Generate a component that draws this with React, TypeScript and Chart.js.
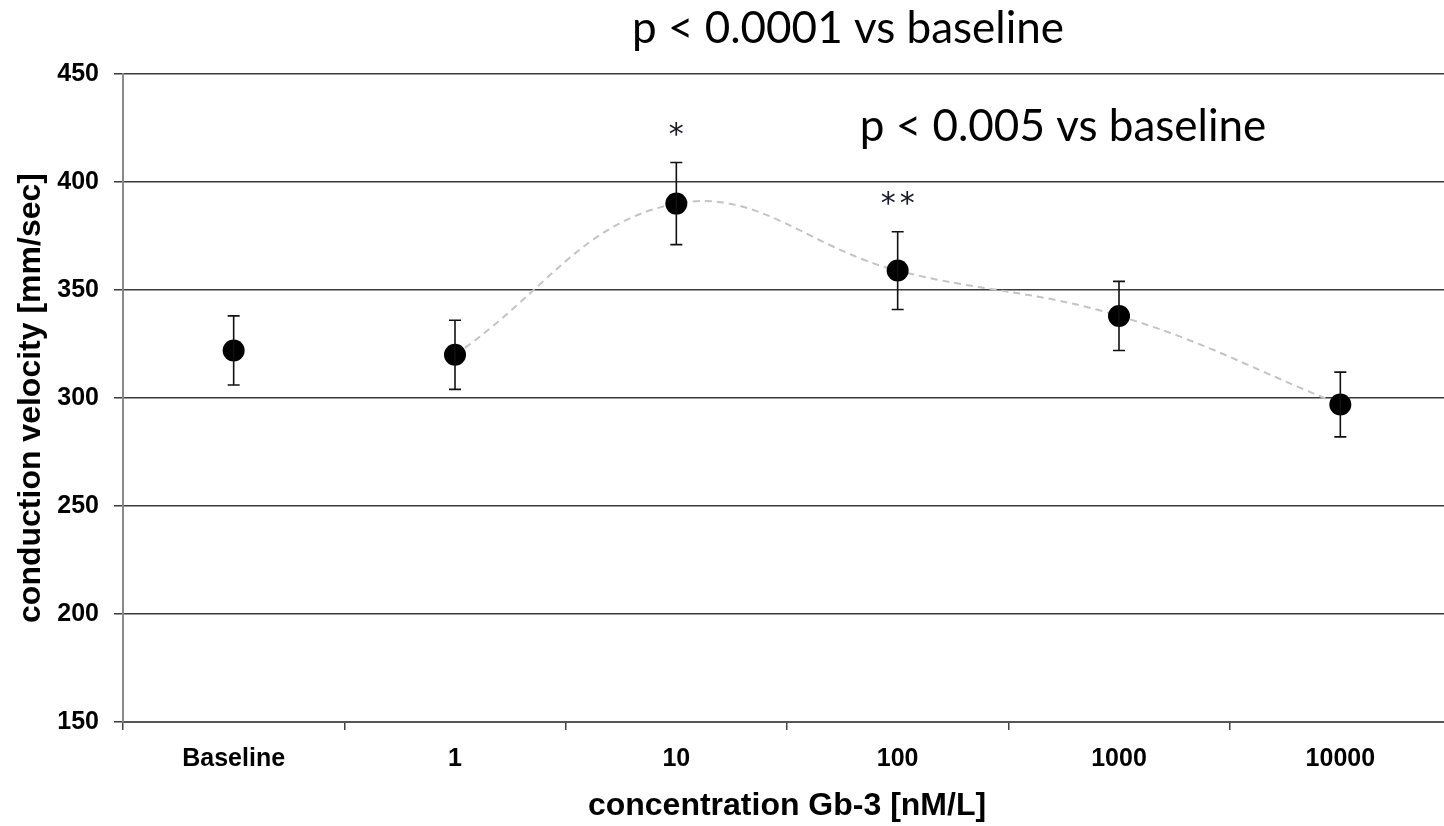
import React, { useEffect, useRef } from "react";
import { Chart, registerables } from "chart.js";

Chart.register(...registerables);

const categories = ["Baseline", "1", "10", "100", "1000", "10000"];
const velocity = [322, 320, 390, 359, 338, 297];
const sem = [16, 16, 19, 18, 16, 15];
const trend = [null, 320, 390, 359, 338, 297];
const significance = ["", "", "*", "**", "", ""];
const notes = ["p < 0.0001 vs baseline", "p < 0.005 vs baseline"];
const yTitle = "conduction velocity [mm/sec]";
const xTitle = "concentration Gb-3 [nM/L]";

const errorBarPlugin = {
  id: "errorBars",
  afterDatasetsDraw(chart: any) {
    const meta = chart.getDatasetMeta(0);
    const y = chart.scales.y;
    const ctx = chart.ctx;
    ctx.save();
    ctx.strokeStyle = "#111";
    ctx.lineWidth = 1.6;
    meta.data.forEach((pt: any, i: number) => {
      const top = y.getPixelForValue(velocity[i] + sem[i]);
      const bot = y.getPixelForValue(velocity[i] - sem[i]);
      const x = pt.x;
      ctx.beginPath();
      ctx.moveTo(x, top);
      ctx.lineTo(x, bot);
      ctx.moveTo(x - 6, top);
      ctx.lineTo(x + 6, top);
      ctx.moveTo(x - 6, bot);
      ctx.lineTo(x + 6, bot);
      ctx.stroke();
    });
    ctx.restore();
  },
};

const textPlugin = {
  id: "notes",
  afterDraw(chart: any) {
    const ctx = chart.ctx;
    const y = chart.scales.y;
    const meta = chart.getDatasetMeta(0);
    ctx.save();
    ctx.fillStyle = "#000";
    ctx.textAlign = "center";
    ctx.textBaseline = "alphabetic";
    ctx.font = "44px Lato";
    ctx.fillText(notes[0], 848, 43);
    ctx.fillText(notes[1], 1063, 141);
    ctx.font = "30px 'DejaVu Sans'";
    ctx.fillStyle = "#1a1a2a";
    meta.data.forEach((pt: any, i: number) => {
      const s = significance[i];
      if (!s) return;
      const top = y.getPixelForValue(velocity[i] + sem[i]);
      const gap = 19;
      const start = pt.x - ((s.length - 1) * gap) / 2;
      for (let k = 0; k < s.length; k++) {
        ctx.fillText(s[k], start + k * gap, top - 19);
      }
    });
    ctx.restore();
  },
};

export default function App() {
  const ref = useRef<HTMLCanvasElement>(null);
  useEffect(() => {
    if (!ref.current) return;
    const chart = new Chart(ref.current, {
      type: "line",
      data: {
        labels: categories,
        datasets: [
          {
            label: "velocity",
            data: velocity,
            showLine: false,
            pointRadius: 11,
            pointHoverRadius: 11,
            pointBackgroundColor: "#000",
            pointBorderColor: "#000",
            pointBorderWidth: 0,
          },
          {
            label: "trend",
            data: trend,
            borderColor: "#c4c4c4",
            borderWidth: 2,
            borderDash: [7, 5],
            pointRadius: 0,
            tension: 0.4,
            spanGaps: false,
            fill: false,
          },
        ],
      },
      options: {
        responsive: false,
        animation: false,
        devicePixelRatio: 1,
        layout: { padding: { top: 74, right: 2, left: 0, bottom: 0 } },
        plugins: {
          legend: { display: false },
          tooltip: { enabled: false },
        },
        events: [],
        scales: {
          x: {
            type: "category",
            offset: true,
            afterFit: (s: any) => {
              s.height = 104;
              s.paddingLeft = 0;
              s.paddingRight = 0;
            },
            grid: {
              offset: true,
              drawOnChartArea: false,
              drawTicks: true,
              tickLength: 8,
              color: "#444",
              lineWidth: 1.5,
            },
            border: { display: true, color: "#555", width: 2 },
            ticks: {
              color: "#000",
              font: { family: "'Liberation Sans', Arial, sans-serif", size: 25, weight: "bold" },
              padding: 14,
              maxRotation: 0,
              autoSkip: false,
            },
            title: {
              display: true,
              text: xTitle,
              color: "#000",
              font: { family: "'Liberation Sans', Arial, sans-serif", size: 32, weight: "bold" },
              padding: { top: 0, bottom: 1 },
            },
          },
          y: {
            min: 150,
            max: 450,
            afterFit: (s: any) => {
              s.width = 123;
            },
            grid: {
              color: "#3a3a3a",
              lineWidth: 1.5,
              tickLength: 9,
              drawTicks: true,
            },
            border: { display: true, color: "#8a8a8a", width: 2 },
            ticks: {
              stepSize: 50,
              color: "#000",
              font: { family: "'Liberation Sans', Arial, sans-serif", size: 25, weight: "bold" },
              padding: 15,
            },
            title: {
              display: true,
              text: yTitle,
              color: "#000",
              font: { family: "'Liberation Sans', Arial, sans-serif", size: 32, weight: "bold" },
              padding: { top: 12, bottom: 0 },
            },
          },
        },
      },
      plugins: [errorBarPlugin, textPlugin],
    });
    return () => chart.destroy();
  }, []);

  return (
    <div
      style={{
        position: "absolute",
        left: 0,
        top: 0,
        width: 1444,
        height: 826,
        overflow: "hidden",
        background: "#fff",
      }}
    >
      <canvas ref={ref} width={1462} height={826} style={{ display: "block" }} />
    </div>
  );
}
